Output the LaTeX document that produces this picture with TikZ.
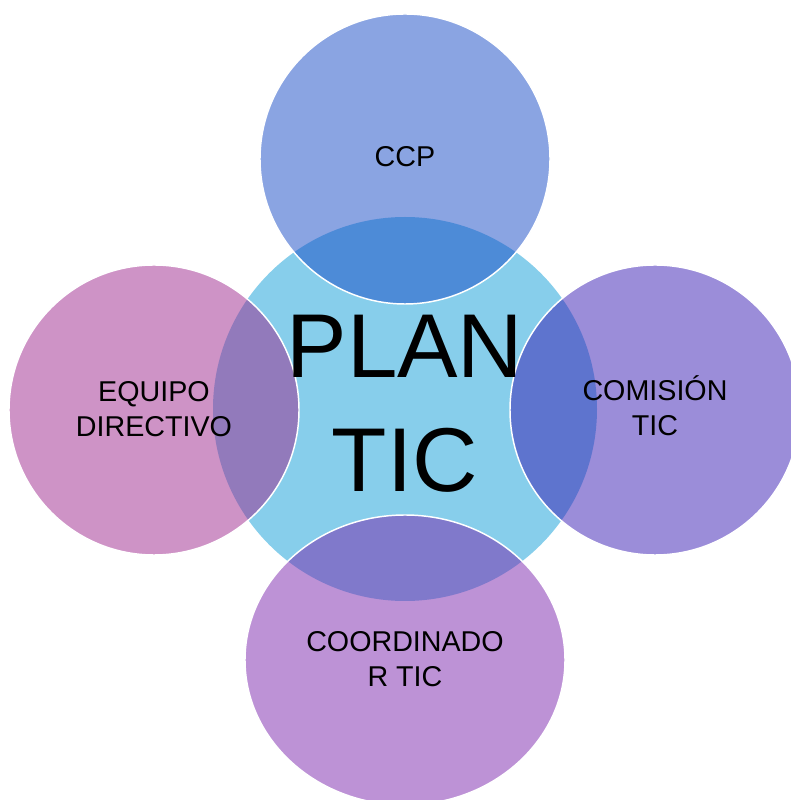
\documentclass[tikz,border=0pt]{standalone}
\usepackage{fontspec}
\setmainfont{Liberation Sans}
\definecolor{plancolor}{RGB}{135,206,235}
\definecolor{ccpcolor}{RGB}{21,73,197}
\definecolor{equipocolor}{RGB}{157,39,141}
\definecolor{comisioncolor}{RGB}{55,27,179}
\definecolor{coordcolor}{RGB}{123,37,173}

\begin{document}
\begin{tikzpicture}[x=0.75pt,y=0.75pt,
  outer/.style={draw=white, line width=1.1pt, fill opacity=0.5},
  circletext/.style={align=center, font=\fontsize{21.5}{26.25}\selectfont}]
  % page
  \useasboundingbox (0,0) rectangle (790,800);

  % plan tic
  \fill[plancolor] (405,391) circle (192);

  % ccp
  \filldraw[outer, fill=ccpcolor] (405,641) circle (145);
  % equipo directivo
  \filldraw[outer, fill=equipocolor] (154,390) circle (145);
  % comision tic
  \filldraw[outer, fill=comisioncolor] (655,390) circle (145);
  % coordinador tic
  \filldraw[outer, fill=coordcolor] (405,140) ellipse [x radius=160, y radius=145];

  % labels
  \node[align=center, font=\fontsize{68}{85.5}\selectfont] (plan) at (405,396) {PLAN\\TIC};
  \node[circletext] (ccp) at (405,643) {CCP};
  \node[circletext] (equipo) at (154,391) {EQUIPO\\DIRECTIVO};
  \node[circletext] (comision) at (655,394) {COMISIÓN\\TIC};
  \node[circletext] (coord) at (405,140.5) {COORDINADO\\R TIC};
\end{tikzpicture}
\end{document}
